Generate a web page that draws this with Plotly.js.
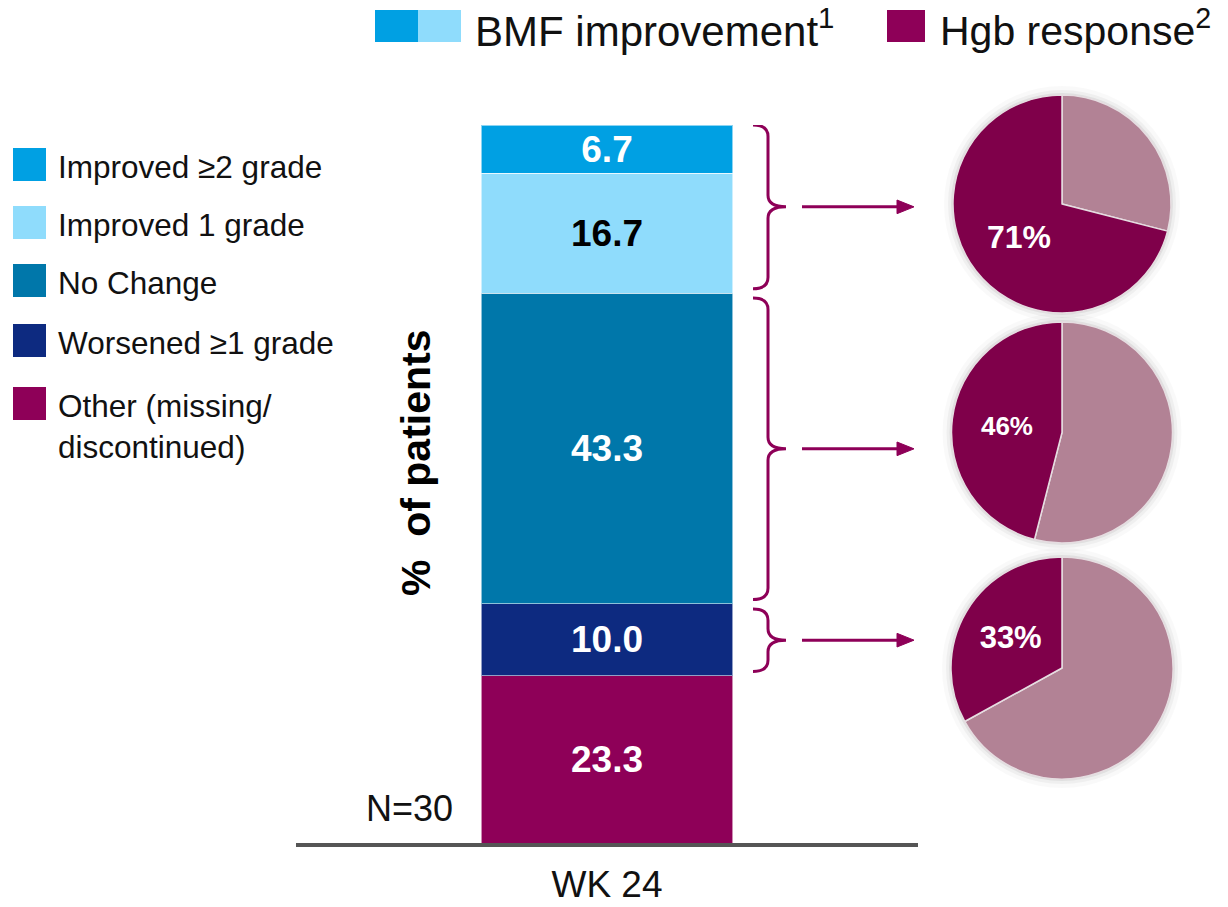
<!DOCTYPE html>
<html>
<head>
<meta charset="utf-8">
<script src="https://cdn.plot.ly/plotly-3.0.1.min.js"></script>
<style>
  html, body { margin: 0; padding: 0; background: #fff; }
  #chart { width: 1228px; height: 907px; }
</style>
</head>
<body>
<div id="chart"></div>
<script>
// stacked bar, top to bottom as in the legend
const categories = ['Improved ≥2 grade', 'Improved 1 grade', 'No Change', 'Worsened ≥1 grade', 'Other (missing/<br>discontinued)'];
const wk24Values = [6.7, 16.7, 43.3, 10.0, 23.3];
const barColors = ['#00A0E3', '#8FDCFC', '#0077AA', '#0D2A80', '#8E0058'];
const labelColors = ['#fff', '#000', '#fff', '#fff', '#fff'];
const timepoints = ['WK 24'];

// Hgb response pies, one per BMF group
const hgbGroups = [[0, 1], [2], [3]];   // indexes into categories
const hgbResponse = [71, 46, 33];
const pieColors = ['#B28295', '#7F004A'];   // non-responders, responders
const pieFontSizes = [32, 26, 31];

const FONT = 'Liberation Sans, Arial, sans-serif';
const W = 1228, H = 907;
const purple = '#8E0058';

var data = [];

// bars are stacked bottom-up, so walk the list backwards
for (let i = categories.length - 1; i >= 0; i--) {
  data.push({
    type: 'bar',
    x: timepoints,
    y: [wk24Values[i]],
    text: [wk24Values[i].toFixed(1)],
    textposition: 'inside',
    insidetextanchor: 'middle',
    textangle: 0,
    textfont: { family: FONT, size: 37, color: labelColors[i], weight: 'bold' },
    width: 0.81,
    marker: { color: barColors[i], line: { color: 'rgba(255,255,255,0.55)', width: 1 } },
    hoverinfo: 'skip',
    showlegend: false,
  });
}

var shapes = [];
var annotations = [];

// pie boxes in pixels -> paper
const pieBoxes = [[952, 95, 1172, 313], [951, 322, 1173, 543], [951, 557, 1173, 779]];
for (let k = 0; k < hgbResponse.length; k++) {
  const b = pieBoxes[k];
  data.push({
    type: 'pie',
    values: [100 - hgbResponse[k], hgbResponse[k]],
    text: ['', hgbResponse[k] + '%'],
    textinfo: 'text',
    textposition: 'inside',
    insidetextorientation: 'horizontal',
    textfont: { family: FONT, size: pieFontSizes[k], color: '#fff', weight: 'bold' },
    marker: { colors: pieColors, line: { color: '#e6dde1', width: 1.5 } },
    sort: false,
    direction: 'clockwise',
    rotation: 0,
    domain: { x: [b[0] / W, b[2] / W], y: [1 - b[3] / H, 1 - b[1] / H] },
    hoverinfo: 'skip',
    showlegend: false,
  });
  // soft halo behind each pie
  const cx = (b[0] + b[2]) / 2, cy = (b[1] + b[3]) / 2, r = (b[3] - b[1]) / 2;
  [[9, 0.025], [5, 0.04], [2, 0.06]].forEach(function (h) {
    shapes.push({
      type: 'circle', xref: 'paper', yref: 'paper', layer: 'below',
      x0: (cx - r - h[0]) / W, x1: (cx + r + h[0]) / W,
      y0: 1 - (cy + r + h[0]) / H, y1: 1 - (cy - r - h[0]) / H,
      fillcolor: 'rgba(0,0,0,' + h[1] + ')', line: { width: 0 },
    });
  });
}

// left legend
const legendTops = [148, 206, 264, 324, 387];
for (let i = 0; i < categories.length; i++) {
  shapes.push({
    type: 'rect', xref: 'paper', yref: 'paper',
    x0: 13 / W, x1: 46 / W,
    y0: 1 - (legendTops[i] + 33) / H, y1: 1 - legendTops[i] / H,
    fillcolor: barColors[i], line: { width: 0 },
  });
  annotations.push({
    xref: 'paper', yref: 'paper', x: 56 / W, y: 1 - (legendTops[i] - 1) / H,
    xanchor: 'left', yanchor: 'top', align: 'left', showarrow: false,
    text: categories[i],
    font: { family: FONT, size: 31.5, color: '#111' },
  });
}

// top legend
shapes.push(
  { type: 'rect', xref: 'paper', yref: 'paper', x0: 375 / W, x1: 418 / W, y0: 1 - 42 / H, y1: 1 - 10 / H, fillcolor: barColors[0], line: { width: 0 } },
  { type: 'rect', xref: 'paper', yref: 'paper', x0: 418 / W, x1: 461 / W, y0: 1 - 42 / H, y1: 1 - 10 / H, fillcolor: barColors[1], line: { width: 0 } },
  { type: 'rect', xref: 'paper', yref: 'paper', x0: 887 / W, x1: 925 / W, y0: 1 - 42 / H, y1: 1 - 10 / H, fillcolor: purple, line: { width: 0 } }
);
annotations.push(
  { xref: 'paper', yref: 'paper', x: 473 / W, y: 1 - 28 / H, xanchor: 'left', yanchor: 'middle', showarrow: false,
    text: 'BMF improvement<sup>1</sup>', font: { family: FONT, size: 42, color: '#111' } },
  { xref: 'paper', yref: 'paper', x: 938 / W, y: 1 - 28 / H, xanchor: 'left', yanchor: 'middle', showarrow: false,
    text: 'Hgb response<sup>2</sup>', font: { family: FONT, size: 41, color: '#111' } },
  { xref: 'paper', yref: 'paper', x: 455 / W, y: 1 - 808 / H, xanchor: 'right', yanchor: 'middle', showarrow: false,
    text: 'N=30', font: { family: FONT, size: 36, color: '#111' } },
  { xref: 'paper', yref: 'paper', x: 416 / W, y: 1 - 463 / H, xanchor: 'center', yanchor: 'middle', showarrow: false,
    textangle: -90, text: '%  of patients', font: { family: FONT, size: 41, color: '#000', weight: 'bold' } }
);

// brackets + arrows, spanning each group's part of the bar
let tops = [];
let acc = 100;
for (let i = 0; i < wk24Values.length; i++) { tops.push(acc); acc -= wk24Values[i]; }
const xa = 753 / W, xb = 768 / W, xc = 786 / W;
const d = 1.6;
const arrowTail = 802 / W, arrowNeck = 897 / W, arrowTip = 914 / W;
const headHalf = 0.95;   // y units (~7 px)
for (let k = 0; k < hgbGroups.length; k++) {
  const g = hgbGroups[k];
  const top = tops[g[0]] - (k === 0 ? 0 : 0.7);
  const bot = tops[g[g.length - 1]] - wk24Values[g[g.length - 1]] + 0.6;
  const mid = (top + bot) / 2;
  shapes.push({
    type: 'path', xref: 'paper', yref: 'y',
    path: `M ${xa},${top} Q ${xb},${top} ${xb},${top - d} L ${xb},${mid + d} Q ${xb},${mid} ${xc},${mid} ` +
          `M ${xb},${mid + d} Q ${xb},${mid} ${xc},${mid} Q ${xb},${mid} ${xb},${mid - d} L ${xb},${bot + d} Q ${xb},${bot} ${xa},${bot}`,
    line: { color: purple, width: 3 },
  });
  shapes.push({
    type: 'line', xref: 'paper', yref: 'y',
    x0: arrowTail, x1: arrowNeck + 2 / W, y0: mid, y1: mid,
    line: { color: purple, width: 3 },
  });
  shapes.push({
    type: 'path', xref: 'paper', yref: 'y',
    path: `M ${arrowNeck},${mid + headHalf} L ${arrowTip},${mid} L ${arrowNeck},${mid - headHalf} Z`,
    fillcolor: purple, line: { color: purple, width: 1 },
  });
}

var layout = {
  width: W, height: H,
  margin: { l: 0, r: 0, t: 0, b: 0 },
  paper_bgcolor: '#fff', plot_bgcolor: 'rgba(0,0,0,0)',
  barmode: 'stack',
  font: { family: FONT, color: '#111' },
  xaxis: {
    type: 'category',
    domain: [296 / W, 918 / W],
    range: [-1, 1],
    showgrid: false, zeroline: false,
    showline: true, linecolor: '#555', linewidth: 4,
    ticks: '', ticklabelstandoff: 6,
    tickfont: { family: FONT, size: 37, color: '#111' },
    fixedrange: true,
  },
  yaxis: {
    domain: [64 / H, 1 - 125 / H],
    range: [0, 100],
    visible: false,
    fixedrange: true,
  },
  shapes: shapes,
  annotations: annotations,
};

Plotly.newPlot('chart', data, layout, { displayModeBar: false, staticPlot: true });
</script>
</body>
</html>
